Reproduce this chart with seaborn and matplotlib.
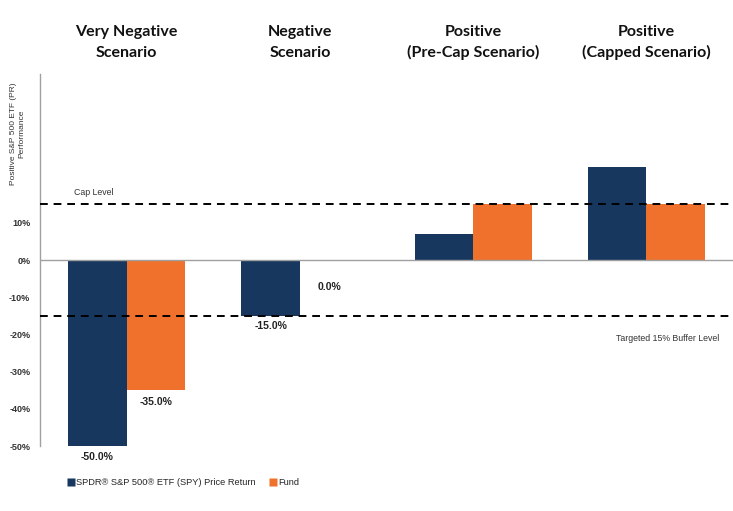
import matplotlib
matplotlib.use("Agg")
import matplotlib.pyplot as plt
import seaborn as sns
import pandas as pd
from matplotlib.lines import Line2D

scenarios = ["Very Negative\nScenario", "Negative\nScenario",
             "Positive\n(Pre-Cap Scenario)", "Positive\n(Capped Scenario)"]
spy_values = [-50.0, -15.0, 7.0, 25.0]
fund_values = [-35.0, 0.0, 15.0, 15.0]
series_names = ["SPDR® S&P 500® ETF (SPY) Price Return", "Fund"]
labels_spy = ["-50.0%", "-15.0%", None, None]
labels_fund = ["-35.0%", "0.0%", None, None]
cap_level = 15.0
buffer_level = -15.0
yticks = [10, 0, -10, -20, -30, -40, -50]
colors = ["#17375E", "#F0712C"]

df = pd.DataFrame({
    "scenario": scenarios * 2,
    "series": [series_names[0]] * 4 + [series_names[1]] * 4,
    "value": spy_values + fund_values,
})

sns.set_theme(style="white")
plt.rcParams["font.family"] = ["Liberation Sans", "DejaVu Sans"]

fig = plt.figure(figsize=(7.33, 5.11), dpi=100)
ax = fig.add_axes([40 / 733, 1 - 446 / 511, 693 / 733, 372 / 511])

sns.barplot(data=df, x="scenario", y="value", hue="series", order=scenarios,
            hue_order=series_names, palette=colors, width=0.674, gap=0,
            saturation=1, edgecolor="none", legend=False, ax=ax)

ax.set_xlim(-0.5, 3.5)
ax.set_ylim(-50, 50)
ax.axhline(0, color="#a0a0a0", lw=1, zorder=1)
ax.axhline(cap_level, color="black", lw=1.4, ls=(0, (4, 3)), zorder=3)
ax.axhline(buffer_level, color="black", lw=1.4, ls=(0, (4, 3)), zorder=3)

for s in ["top", "right", "bottom"]:
    ax.spines[s].set_visible(False)
ax.spines["left"].set_color("#a0a0a0")
ax.spines["left"].set_linewidth(1)

ax.set_yticks(yticks)
ax.set_yticklabels([f"{t}%" for t in yticks], fontsize=6.5, fontweight="bold",
                   color="#333333")
ax.tick_params(axis="y", length=0, pad=7)
ax.set_xticks([])
ax.set_xlabel("")
ax.set_ylabel("")

# scenario titles on top
for i, sc in enumerate(scenarios):
    ax.text(i, 1.0 + 31.5 / 372, sc, transform=ax.get_xaxis_transform(),
            ha="center", va="center", fontsize=11.5, fontweight="bold",
            color="#111111", family=["Lato", "DejaVu Sans"], linespacing=1.55)

# value labels
bw = 0.674 / 2
for i, (lab, v) in enumerate(zip(labels_spy, spy_values)):
    if lab:
        ax.text(i - bw / 2, v - 1.5, lab, ha="center", va="top", fontsize=7.5,
                fontweight="bold", color="#222222")
for i, (lab, v) in enumerate(zip(labels_fund, fund_values)):
    if lab:
        ax.text(i + bw / 2, v - 6.0 if v == 0 else v - 1.8, lab, ha="center",
                va="top", fontsize=7.5, fontweight="bold", color="#222222")

ax.text(-0.19, cap_level + 2.0, "Cap Level", ha="center", va="bottom",
        fontsize=6.3, color="#333333")
ax.text(3.12, buffer_level - 5.0, "Targeted 15% Buffer Level", ha="center",
        va="top", fontsize=6.3, color="#333333")

fig.text(0.024, 0.738, "Positive S&P 500 ETF (PR)\nPerformance", rotation=90,
         ha="center", va="center", fontsize=6, color="#333333",
         linespacing=1.35)

handles = [Line2D([], [], marker="s", ls="none", markersize=5.5,
                  markerfacecolor=c, markeredgecolor="none") for c in colors]
fig.legend(handles, series_names, loc="center left",
           bbox_to_anchor=(0.081, 0.056), ncol=2, frameon=False,
           fontsize=6.7, handletextpad=0.15, columnspacing=1.6,
           handlelength=0.7)

fig.savefig("out.png", dpi=100)
